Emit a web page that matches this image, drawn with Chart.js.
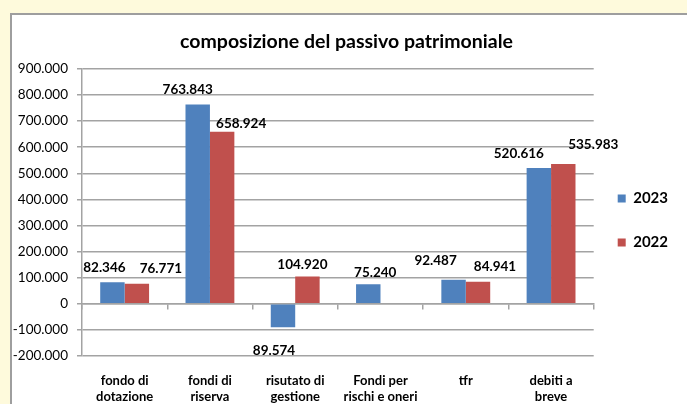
<!DOCTYPE html>
<html>
<head>
<meta charset="utf-8">
<script src="https://cdn.jsdelivr.net/npm/chart.js@4"></script>
<style>
    html, body { margin: 0; padding: 0; background: #fefadc; overflow: hidden; }
    #box { position: absolute; left: 10px; top: 13px; width: 700px; height: 420px; background: #fff; border: 2px solid #9e9e9e; box-sizing: border-box; }
    #wrap { position: absolute; left: 0; top: 0; width: 687px; height: 404px; }
</style>
</head>
<body>
<div id="box"></div>
<div id="wrap"><canvas id="passivo-chart"></canvas></div>
<script>
// data
const categories = [['fondo di', 'dotazione'], ['fondi di', 'riserva'], ['risutato di', 'gestione'], ['Fondi per', 'rischi e oneri'], ['tfr'], ['debiti a', 'breve']];
const values2023 = [82346, 763843, -89574, 75240, 92487, 520616];
const values2022 = [76771, 658924, 104920, null, 84941, 535983];
const yMin = -200000;
const yMax = 900000;
const yStep = 100000;

// label nudges (px) relative to the bar end, the Excel labels were dragged by hand
const nudgeX = [[-8, -10, -9, 7, -18, -20], [24, 19, -5, 0, 17, 30]];
const nudgeY = [[-14.5, -14.5, 23.5, -11.5, -19, -14.5], [-15, -8, -11.5, 0, -15, -19]];

const gridColor = '#a3a3a3';

// italian thousands separator
function fmt(n) {
    return String(n).replace(/\B(?=(\d{3})+(?!\d))/g, '.');
}

// value labels (negative one shown without sign, under the bar)
const barLabels = {
    id: 'barLabels',
    afterDatasetsDraw(chart) {
        const ctx = chart.ctx;
        ctx.save();
        ctx.font = 'bold 13.5px Lato';
        ctx.fillStyle = '#000';
        ctx.textAlign = 'center';
        ctx.textBaseline = 'middle';
        chart.data.datasets.forEach((ds, di) => {
            const meta = chart.getDatasetMeta(di);
            meta.data.forEach((bar, i) => {
                const v = ds.data[i];
                if (v === null) return;
                ctx.fillText(fmt(Math.abs(v)), bar.x + nudgeX[di][i], bar.y + nudgeY[di][i]);
            });
        });
        ctx.restore();
    }
};

// move legend a bit lower / left like in the original
const legendShift = {
    id: 'legendShift',
    afterLayout(chart) {
        chart.legend.left -= 5;
        chart.legend.top += 18.5;
        chart.legend.bottom += 18.5;
    }
};

Chart.defaults.font.family = 'Lato, "Open Sans", sans-serif';
Chart.defaults.color = '#000';

const ctx = document.getElementById('passivo-chart').getContext('2d');
const passivoChart = new Chart(ctx, {
    type: 'bar',
    data: {
        labels: categories,
        datasets: [{
            label: '2023',
            data: values2023,
            backgroundColor: '#4f81bd',
            borderWidth: 0
        }, {
            label: '2022',
            data: values2022,
            backgroundColor: '#c0504d',
            borderWidth: 0
        }]
    },
    options: {
        responsive: true,
        maintainAspectRatio: false,
        animation: false,
        layout: { padding: { left: 10, right: 4, top: 0, bottom: 0 } },
        datasets: {
            bar: { categoryPercentage: 0.573, barPercentage: 1 }
        },
        plugins: {
            title: {
                display: true,
                text: 'composizione del passivo patrimoniale',
                font: { size: 19.5, weight: 'bold' },
                color: '#000',
                padding: { top: 30, bottom: 15.5 }
            },
            legend: {
                position: 'right',
                labels: {
                    boxWidth: 8,
                    boxHeight: 8,
                    padding: 29,
                    font: { size: 15, weight: 'bold' },
                    color: '#000'
                }
            },
            tooltip: { enabled: false }
        },
        scales: {
            x: {
                grid: { display: false, drawTicks: false },
                border: { display: false },
                ticks: { padding: 17, font: { size: 13, weight: 'bold' }, maxRotation: 0, autoSkip: false },
                afterFit: (scale) => { scale.height = 48; }
            },
            x2: {
                type: 'category',
                position: { y: 0 },
                offset: true,
                grid: { display: true, drawOnChartArea: false, drawTicks: true, tickLength: 5, offset: true, color: gridColor, lineWidth: 1.5 },
                border: { display: true, color: gridColor, width: 1.5 },
                ticks: { display: false }
            },
            y: {
                min: yMin,
                max: yMax,
                ticks: {
                    stepSize: yStep,
                    padding: 9,
                    font: { size: 13.5 },
                    callback: (v) => fmt(v)
                },
                grid: { color: gridColor, lineWidth: 1.5, tickLength: 5 },
                border: { display: true, color: gridColor, width: 1.5 },
                afterFit: (scale) => { scale.width = 72; }
            }
        }
    },
    plugins: [barLabels, legendShift]
});
</script>
</body>
</html>
